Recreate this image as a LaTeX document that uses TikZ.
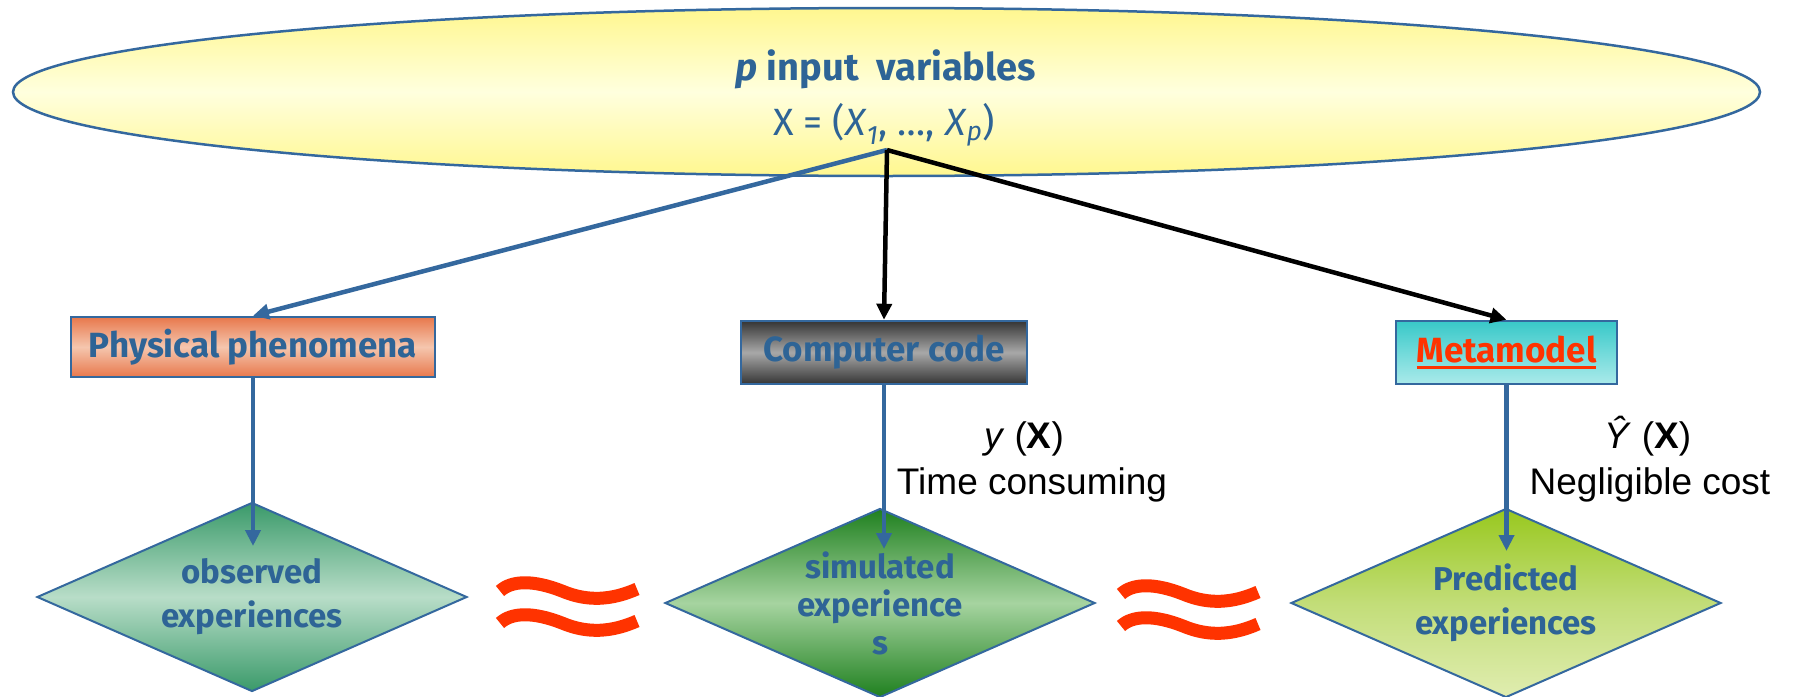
\documentclass[tikz,border=0pt]{standalone}
\usepackage{fontspec}
\setmainfont{Fira Sans}
\newfontfamily\annfont{Liberation Sans}
\usetikzlibrary{shapes.geometric,arrows.meta}

\definecolor{txtblue}{HTML}{2E6496}
\definecolor{edgeblue}{HTML}{34689E}
\definecolor{approxred}{HTML}{FF3300}
\definecolor{ellout}{HTML}{FFF78F}
\definecolor{ellin}{HTML}{FFFFDE}
\definecolor{physout}{HTML}{E8784C}
\definecolor{physin}{HTML}{F5C6AE}
\definecolor{codeout}{HTML}{353535}
\definecolor{codein}{HTML}{A8A8A8}
\definecolor{metatop}{HTML}{38C8C8}
\definecolor{metamid}{HTML}{72DADA}
\definecolor{metabot}{HTML}{AAEAEA}
\definecolor{obsout}{HTML}{3A9A6A}
\definecolor{obsin}{HTML}{B8DDC8}
\definecolor{simout}{HTML}{1F801F}
\definecolor{simin}{HTML}{A6D4A0}
\definecolor{predtop}{HTML}{98C81E}
\definecolor{predmid}{HTML}{C2DD78}
\definecolor{predbot}{HTML}{E0EDB0}

% thick underline drawn just below the baseline
\newcommand\thickul[1]{\leavevmode\vtop{\hbox{#1}\kern3pt\hrule height 3.5pt}}

\begin{document}
\begin{tikzpicture}[x=1pt,y=-1pt,
  stagebox/.style={draw=edgeblue,line width=2.5pt,inner sep=0pt,
    font=\bfseries\fontsize{35}{40}\selectfont,text=txtblue},
  outcome/.style={diamond,draw=edgeblue,line width=2pt,aspect=2.28,
    minimum width=430pt,minimum height=189pt,inner sep=0pt,align=center,
    font=\bfseries\fontsize{33}{44}\selectfont,text=txtblue},
  feed/.style={line width=4.5pt,draw=edgeblue,-{Triangle[length=16pt,width=15pt]}},
  call/.style={line width=4.5pt,draw=black,-{Triangle[length=16pt,width=15pt]}},
  approx/.style={line width=13pt,draw=approxred},
  note/.style={font=\annfont\fontsize{37}{46}\selectfont,anchor=base,inner sep=0pt}
]
\useasboundingbox (0,0) rectangle (1793,696);

% input space
\node[ellipse,draw=edgeblue,line width=2.5pt,minimum width=1747pt,minimum height=168pt,
  top color=ellout,bottom color=ellout,middle color=ellin] (inputs) at (886.5,92) {};
\node[anchor=base,text=txtblue,font=\bfseries\fontsize{38}{44}\selectfont]
  (title) at (886,80) {\textit{p} input\ \ variables};
\node[anchor=base,text=txtblue,font=\fontsize{38}{44}\selectfont]
  (vector) at (884,135) {X = (\textit{X}\textsubscript{\textit{1}}, \ldots, \textit{X}\textsubscript{\textit{p}})};
\coordinate (src) at (887,150);

% the three ways of producing outputs
\node[stagebox,minimum width=364pt,minimum height=60pt,
  top color=physout,bottom color=physout,middle color=physin] (phys) at (253,347) {Physical phenomena};
\node[stagebox,minimum width=286pt,minimum height=63pt,
  top color=codeout,bottom color=codeout,middle color=codein] (code) at (884,352.5) {Computer code};
\node[stagebox,minimum width=221pt,minimum height=63pt,
  top color=metatop,bottom color=metabot,middle color=metamid] (meta) at (1506.5,352.5)
  {\color{approxred}\thickul{Metamodel}};

% resulting experiences
\node[outcome,top color=obsout,bottom color=obsout,middle color=obsin] (obs) at (252,597)
  {observed\\experiences};
\node[outcome,top color=simout,bottom color=simout,middle color=simin,
  font=\bfseries\fontsize{33}{38}\selectfont] (sim) at (880,603)
  {simulated\\experience\\s};
\node[outcome,top color=predtop,bottom color=predbot,middle color=predmid] (pred) at (1506,603)
  {Predicted\\experiences};

\coordinate (obsin) at (253,546);
\coordinate (simin) at (884,549);
\coordinate (predin) at (1506,551);

% connectors
\draw[feed] (src) -- (phys.north);
\draw[call] (src) -- (code.north);
\draw[call] (src) -- (meta.north);
\draw[feed] (phys.south) -- (phys.south |- obsin);
\draw[feed] (code.south) -- (code.south |- simin);
\draw[feed] (meta.south) -- (meta.south |- predin);

% cost annotations
\node[note] (ysim) at (1024,448) {\textit{y} (\textbf{X})};
\node[note] (tsim) at (1032,494) {Time consuming};
\node[note] (ypred) at (1648,448) {\textit{Ŷ} (\textbf{X})};
\node[note] (tpred) at (1650,494) {Negligible cost};

% approximately-equal signs between the experiences
\foreach \x/\y in {500/591, 500/623, 1121/594, 1121/626} {
  \draw[approx] (\x,\y) .. controls ({\x+12},{\y-11}) and ({\x+34},{\y-11}) .. ({\x+62},\y)
    .. controls ({\x+88},{\y+11}) and ({\x+112},{\y+9}) .. ({\x+137},{\y-2});
}
\end{tikzpicture}
\end{document}
